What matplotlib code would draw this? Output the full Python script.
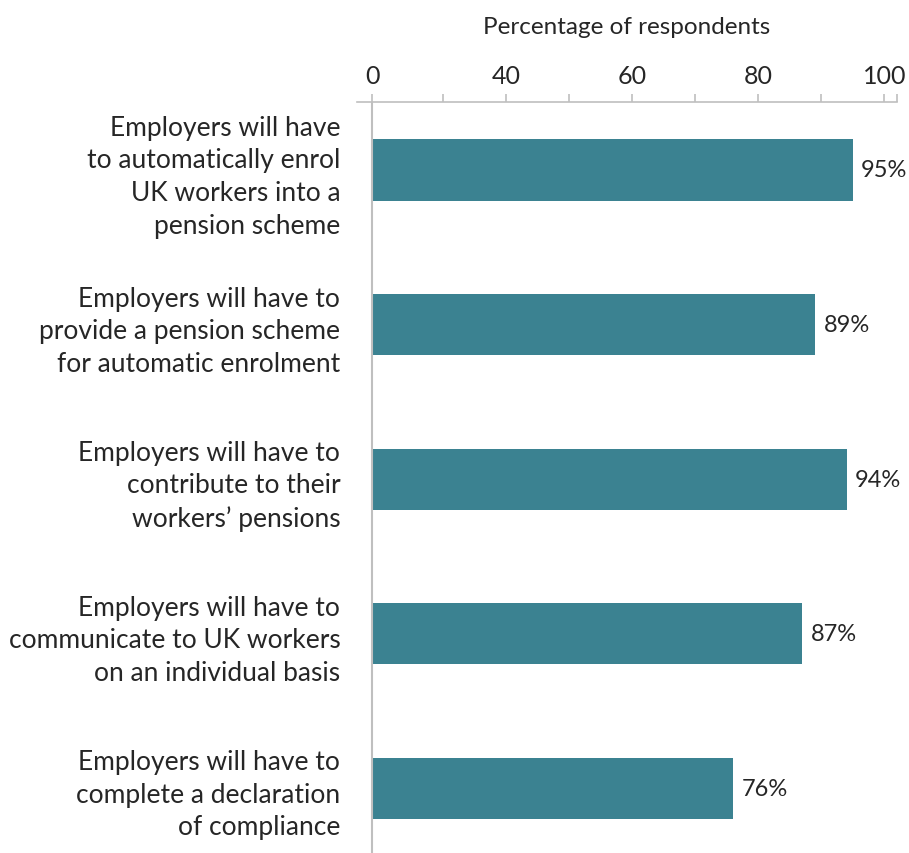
"""
Horizontal bar chart: employer duties known by respondents.
"""
import matplotlib
matplotlib.use("Agg")
import matplotlib.pyplot as plt

categories = [
    "Employers will have\nto automatically enrol\nUK workers into a\npension scheme",
    "Employers will have to\nprovide a pension scheme\nfor automatic enrolment",
    "Employers will have to\ncontribute to their\nworkers\u2019 pensions",
    "Employers will have to\ncommunicate to UK workers\non an individual basis",
    "Employers will have to\ncomplete a declaration\nof compliance",
]
values = [95, 89, 94, 87, 76]
tick_labels = ["0", "40", "60", "80", "100"]
tick_values = [40, 60, 80, 100]
minor_values = [30, 50, 70, 90]

BAR_COLOR = "#3b8291"
AXIS_COLOR = "#bfbfbf"
TEXT_COLOR = "#262626"

plt.rcParams["font.family"] = ["Lato", "DejaVu Sans"]

# value axis crossing and visible range
x_cross = 18.7
x_lo, x_hi = 16.3, 102.0

fig = plt.figure(figsize=(9.09, 8.54), dpi=100)
ax = fig.add_axes([0.3927, 0.0, 0.5941, 0.8794])

ypos = list(range(len(categories)))
ax.barh(ypos, [v - x_cross for v in values], left=x_cross, height=0.395,
        color=BAR_COLOR, zorder=2)

for y, v in zip(ypos, values):
    ax.annotate(f"{v}%", xy=(v, y), xytext=(6, 0), textcoords="offset points",
                va="center", ha="left", fontsize=17, color=TEXT_COLOR)

ax.set_xlim(x_lo, x_hi)
ax.set_ylim(4.42, -0.44)

# vertical category axis drawn at the crossing point
ax.axvline(x_cross, color=AXIS_COLOR, lw=1.5, zorder=3)

for side in ("left", "right", "bottom"):
    ax.spines[side].set_visible(False)
ax.spines["top"].set_color(AXIS_COLOR)
ax.spines["top"].set_linewidth(1.2)

ax.xaxis.tick_top()
ax.set_xticks([x_cross] + tick_values)
ax.set_xticklabels(tick_labels)
ax.set_xticks(minor_values + [x_hi], minor=True)
ax.tick_params(axis="x", which="both", direction="out", length=6, width=1.2,
               color=AXIS_COLOR, labelsize=18, labelcolor=TEXT_COLOR, pad=5)
ax.xaxis.set_label_position("top")
ax.set_xlabel("Percentage of respondents", fontsize=17.5, color=TEXT_COLOR,
              labelpad=22)

ax.set_yticks(ypos)
ax.set_yticklabels(categories, fontsize=19, color=TEXT_COLOR,
                   linespacing=1.38)
ax.tick_params(axis="y", length=0, pad=12)

fig.savefig("out.png", dpi=100)
plt.close(fig)
